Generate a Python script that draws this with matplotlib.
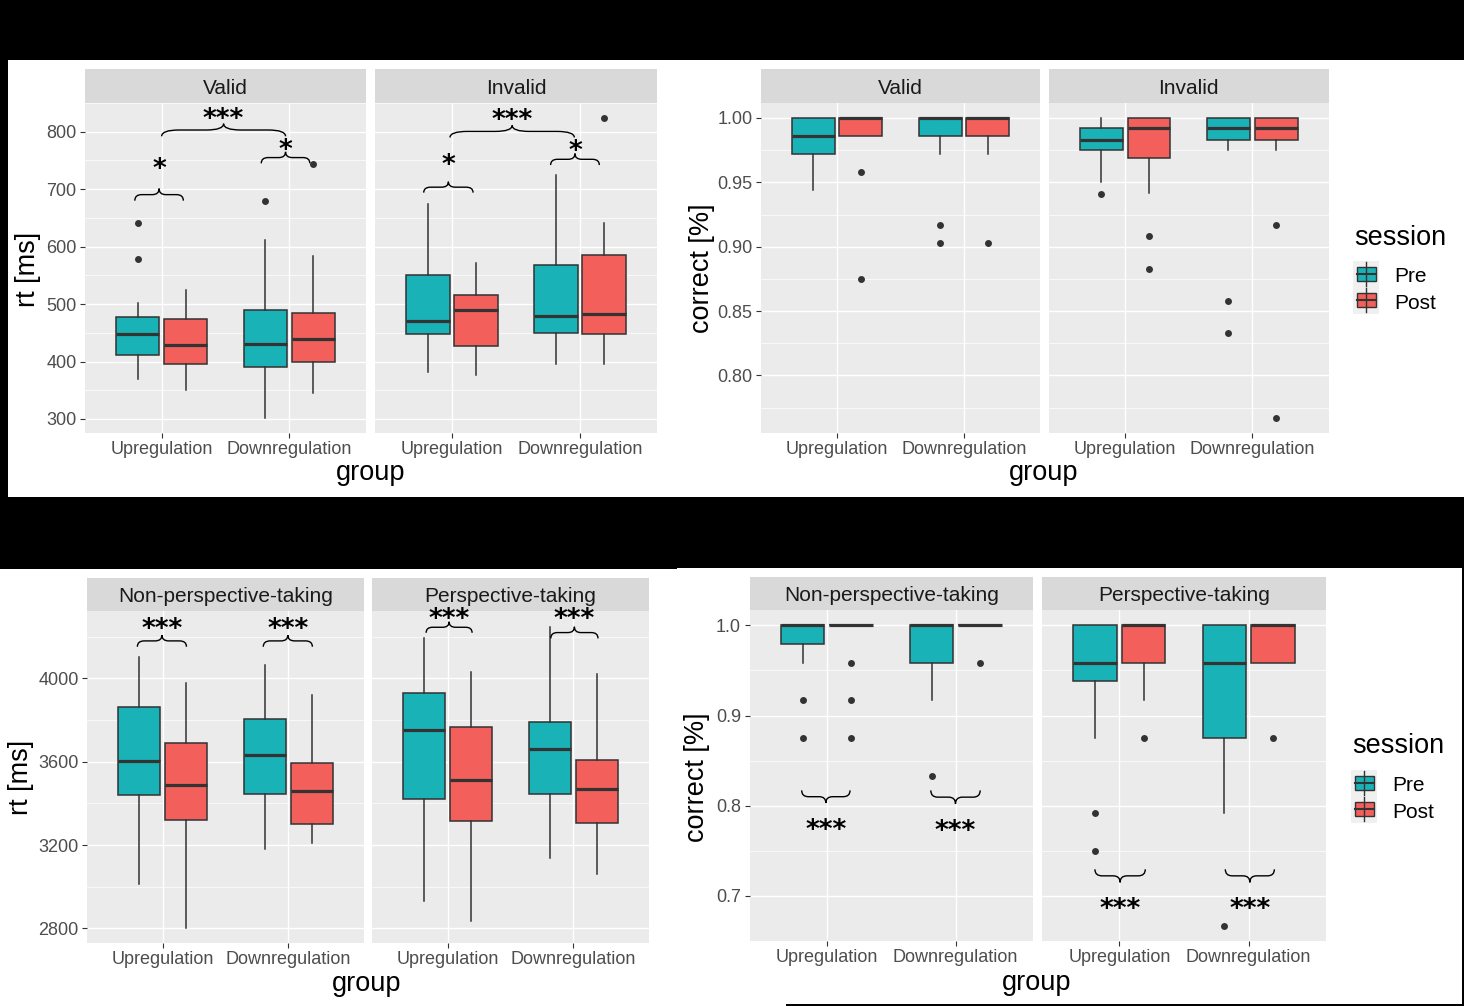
import matplotlib
matplotlib.use('Agg')
import matplotlib.pyplot as plt
from matplotlib.patches import Rectangle, PathPatch
from matplotlib.path import Path

plt.rcParams['font.family'] = ['Liberation Sans', 'DejaVu Sans']

W, H = 1464, 1006

groups = ['Upregulation', 'Downregulation']
sessions = ['Pre', 'Post']
session_colors = ['#19B3B7', '#F35F5A']

cue_facets = ['Valid', 'Invalid']
pt_facets = ['Non-perspective-taking', 'Perspective-taking']

# box order inside each facet: Up-Pre, Up-Post, Down-Pre, Down-Post
rt_cue_lo = [[370, 350, 302, 345], [382, 377, 395, 396]]
rt_cue_q1 = [[411, 396, 390, 399], [448, 427, 449, 448]]
rt_cue_med = [[448, 428, 430, 439], [470, 489, 479, 483]]
rt_cue_q3 = [[477, 474, 489, 485], [550, 516, 568, 585]]
rt_cue_hi = [[502, 525, 612, 583], [674, 571, 725, 641]]
rt_cue_out = [[[579, 641], [], [680], [743]], [[], [], [], [824]]]

acc_cue_lo = [[0.944, 0.986, 0.972, 0.972], [0.950, 0.942, 0.975, 0.975]]
acc_cue_q1 = [[0.972, 0.986, 0.986, 0.986], [0.975, 0.969, 0.983, 0.983]]
acc_cue_med = [[0.986, 1.000, 1.000, 1.000], [0.983, 0.992, 0.992, 0.992]]
acc_cue_q3 = [[1.000, 1.000, 1.000, 1.000], [0.992, 1.000, 1.000, 1.000]]
acc_cue_hi = [[1.000, 1.000, 1.000, 1.000], [1.000, 1.000, 1.000, 1.000]]
acc_cue_out = [[[], [0.958, 0.875], [0.917, 0.903], [0.903]],
               [[0.941], [0.908, 0.883], [0.858, 0.833], [0.917, 0.767]]]

rt_pt_lo = [[3015, 2802, 3180, 3210], [2931, 2834, 3140, 3063]]
rt_pt_q1 = [[3439, 3319, 3444, 3300], [3423, 3316, 3444, 3308]]
rt_pt_med = [[3603, 3486, 3632, 3460], [3750, 3510, 3662, 3467]]
rt_pt_q3 = [[3862, 3688, 3806, 3592], [3930, 3765, 3792, 3609]]
rt_pt_hi = [[4101, 3978, 4064, 3918], [4194, 4029, 4247, 4021]]
rt_pt_out = [[[], [], [], []], [[], [], [], []]]

acc_pt_lo = [[0.958, 1.000, 0.917, 1.000], [0.875, 0.917, 0.792, 0.958]]
acc_pt_q1 = [[0.979, 1.000, 0.958, 1.000], [0.938, 0.958, 0.875, 0.958]]
acc_pt_med = [[1.000, 1.000, 1.000, 1.000], [0.958, 1.000, 0.958, 1.000]]
acc_pt_q3 = [[1.000, 1.000, 1.000, 1.000], [1.000, 1.000, 1.000, 1.000]]
acc_pt_hi = [[1.000, 1.000, 1.000, 1.000], [1.000, 1.000, 1.000, 1.000]]
acc_pt_out = [[[0.917, 0.875], [0.958, 0.917, 0.875], [0.833], [0.958]],
              [[0.792, 0.750], [0.875], [0.667], [0.875]]]

# significance braces per facet: (x from, x to, y at ends, y at tip, y of stars, label)
rt_cue_braces = [
    [(0.79, 1.17, 680, 701, 745, '*'), (1.78, 2.16, 745, 765, 778, '*'),
     (1.00, 1.97, 792, 814, 832, '***')],
    [(0.78, 1.165, 694, 713, 751, '*'), (1.77, 2.15, 742, 762, 776, '*'),
     (0.985, 1.955, 790, 811, 829, '***')],
]
acc_cue_braces = [[], []]
rt_pt_braces = [
    [(0.80, 1.19, 4152, 4208, 4261, '***'), (1.80, 2.19, 4152, 4208, 4261, '***')],
    [(0.83, 1.195, 4219, 4272, 4308, '***'), (1.82, 2.195, 4192, 4248, 4308, '***')],
]
acc_pt_braces = [
    [(0.805, 1.18, 0.817, 0.803, 0.779, '***'), (1.807, 2.19, 0.817, 0.802, 0.778, '***')],
    [(0.81, 1.20, 0.7295, 0.715, 0.691, '***'), (1.82, 2.20, 0.7295, 0.715, 0.691, '***')],
]

fig = plt.figure(figsize=(W / 100, H / 100), dpi=100, facecolor='black')


def white(x0, y0, x1, y1):
    fig.add_artist(Rectangle((x0 / W, 1 - y1 / H), (x1 - x0) / W, (y1 - y0) / H,
                             transform=fig.transFigure, facecolor='white',
                             edgecolor='none', zorder=-5))


def px_axes(x0, y0, x1, y1):
    return fig.add_axes([x0 / W, 1 - y1 / H, (x1 - x0) / W, (y1 - y0) / H])


def brace(ax, xa, xb, y_end, y_tip):
    xc = (xa + xb) / 2
    ym = (y_end + y_tip) / 2
    q = (xb - xa) * 0.14
    verts = [(xa, y_end), (xa, ym), (xa + q, ym), (xc - q, ym), (xc, ym), (xc, y_tip),
             (xc, ym), (xc + q, ym), (xb - q, ym), (xb, ym), (xb, y_end)]
    codes = [Path.MOVETO, Path.CURVE3, Path.CURVE3, Path.LINETO, Path.CURVE3, Path.CURVE3,
             Path.CURVE3, Path.CURVE3, Path.LINETO, Path.CURVE3, Path.CURVE3]
    ax.add_patch(PathPatch(Path(verts, codes), facecolor='none', edgecolor='black',
                           lw=1.0, zorder=5))


def draw_plot(x_edges, y_top, y_strip, y_bottom, facets, lo, q1, med, q3, hi, out,
              ylim, yticks, yminor, yfmt, braces):
    for f, (x0, x1) in enumerate(x_edges):
        st = px_axes(x0, y_top, x1, y_strip)
        st.set_zorder(1)
        st.set_facecolor('#D9D9D9')
        st.set_xticks([])
        st.set_yticks([])
        for s in st.spines.values():
            s.set_visible(False)
        st.text(0.5, 0.44, facets[f], transform=st.transAxes, ha='center', va='center',
                fontsize=15, color='#1A1A1A')

        ax = px_axes(x0, y_strip, x1, y_bottom)
        ax.set_zorder(2)
        ax.set_facecolor('#EBEBEB')
        for s in ax.spines.values():
            s.set_visible(False)
        stats, pos, cols = [], [], []
        for g in range(len(groups)):
            for k in range(len(sessions)):
                i = 2 * g + k
                stats.append(dict(whislo=lo[f][i], q1=q1[f][i], med=med[f][i],
                                  q3=q3[f][i], whishi=hi[f][i], fliers=out[f][i]))
                pos.append(g + 1 + (k - 0.5) * 0.375)
                cols.append(session_colors[k])
        res = ax.bxp(stats, positions=pos, widths=0.3375, patch_artist=True,
                     showcaps=False, manage_ticks=False,
                     boxprops=dict(edgecolor='#333333', linewidth=1.1),
                     whiskerprops=dict(color='#333333', linewidth=1.1),
                     medianprops=dict(color='#333333', linewidth=2.3,
                                      solid_capstyle='butt'),
                     flierprops=dict(marker='o', markersize=5, markerfacecolor='#333333',
                                     markeredgewidth=0, linestyle='none'))
        for patch, c in zip(res['boxes'], cols):
            patch.set_facecolor(c)
        for (xa, xb, ye, yt, ys, lab) in braces[f]:
            brace(ax, xa, xb, ye, yt)
            ax.annotate(lab, xy=((xa + xb) / 2, ys), xytext=(0, -9.5),
                        textcoords='offset points', ha='center', va='baseline',
                        fontsize=19, family='DejaVu Sans', weight='bold',
                        color='black', zorder=6, annotation_clip=False, clip_on=False)
        ax.set_xlim(0.4, 2.6)
        ax.set_ylim(*ylim)
        ax.set_xticks([1, 2])
        ax.set_xticklabels(groups)
        ax.set_yticks(yticks)
        ax.set_yticklabels([yfmt.format(v) for v in yticks])
        ax.set_yticks(yminor, minor=True)
        ax.set_axisbelow(True)
        ax.grid(which='major', color='white', linewidth=1.0)
        ax.grid(which='minor', axis='y', color='white', linewidth=0.5)
        ax.tick_params(which='minor', length=0)
        ax.tick_params(axis='x', length=3.5, width=0.8, color='#333333', pad=2,
                       labelsize=13, labelcolor='#4D4D4D')
        ax.tick_params(axis='y', length=3.6, width=0.8, color='#333333', pad=2.5,
                       labelsize=13, labelcolor='#4D4D4D')
        if f > 0:
            ax.tick_params(axis='y', left=False, labelleft=False)


white(8, 60, 1464, 497)
white(0, 569, 677, 1006)
white(677, 568, 1462, 1004)
white(677, 1004, 786, 1006)

draw_plot([(85, 366), (375, 657)], 69, 103, 433, cue_facets,
          rt_cue_lo, rt_cue_q1, rt_cue_med, rt_cue_q3, rt_cue_hi, rt_cue_out,
          (275.6, 850), [300, 400, 500, 600, 700, 800], [350, 450, 550, 650, 750, 850],
          '{:d}', rt_cue_braces)
draw_plot([(761, 1040), (1049, 1328.5)], 69, 103, 433, cue_facets,
          acc_cue_lo, acc_cue_q1, acc_cue_med, acc_cue_q3, acc_cue_hi, acc_cue_out,
          (0.7553, 1.0116), [0.80, 0.85, 0.90, 0.95, 1.00], [0.775, 0.825, 0.875, 0.925, 0.975],
          '{:.2f}', acc_cue_braces)
draw_plot([(87, 364), (372, 649)], 578, 611, 943, pt_facets,
          rt_pt_lo, rt_pt_q1, rt_pt_med, rt_pt_q3, rt_pt_hi, rt_pt_out,
          (2729.5, 4323.6), [2800, 3200, 3600, 4000], [3000, 3400, 3800, 4200],
          '{:d}', rt_pt_braces)
draw_plot([(749.5, 1033), (1042, 1326)], 577, 610, 941, pt_facets,
          acc_pt_lo, acc_pt_q1, acc_pt_med, acc_pt_q3, acc_pt_hi, acc_pt_out,
          (0.651, 1.017), [0.7, 0.8, 0.9, 1.0], [0.65, 0.75, 0.85, 0.95],
          '{:.1f}', acc_pt_braces)

# overlay in pixel coordinates for axis titles and legends
ov = fig.add_axes([0, 0, 1, 1], zorder=10)
ov.set_xlim(0, W)
ov.set_ylim(H, 0)
ov.axis('off')

for (x, y, lab) in [(28, 269, 'rt [ms]'), (702, 268, 'correct [%]'),
                    (21, 777, 'rt [ms]'), (697, 777, 'correct [%]')]:
    ov.text(x, y, lab, rotation=90, ha='center', va='center', fontsize=19.5, color='black')
for (x, y) in [(371, 480), (1044, 480), (367, 991), (1037, 990)]:
    ov.text(x, y, 'group', ha='center', va='baseline', fontsize=19.5, color='black')

for (lx, title_y, key_y) in [(1353, 245, 260.5), (1351, 753, 769.5)]:
    ov.text(lx + 1, title_y, 'session', ha='left', va='baseline', fontsize=19.5,
            color='black')
    for k, (name, col) in enumerate(zip(sessions, session_colors)):
        ky = key_y + k * 26.5
        ov.add_patch(Rectangle((lx, ky), 26, 26.5, facecolor='#F0F0F0', edgecolor='none'))
        cx, cy = lx + 13, ky + 13.25
        ov.plot([cx, cx], [cy - 12, cy + 12], color='#333333', lw=1.0)
        ov.add_patch(Rectangle((cx - 9.5, cy - 7), 19, 14, facecolor=col,
                               edgecolor='#333333', lw=1.0))
        ov.plot([cx - 9.5, cx + 9.5], [cy, cy], color='#333333', lw=1.5)
        ov.text(lx + 41, cy + 3, name, ha='left', va='center', fontsize=15, color='black')

fig.savefig('out.png', dpi=100, facecolor='black')
